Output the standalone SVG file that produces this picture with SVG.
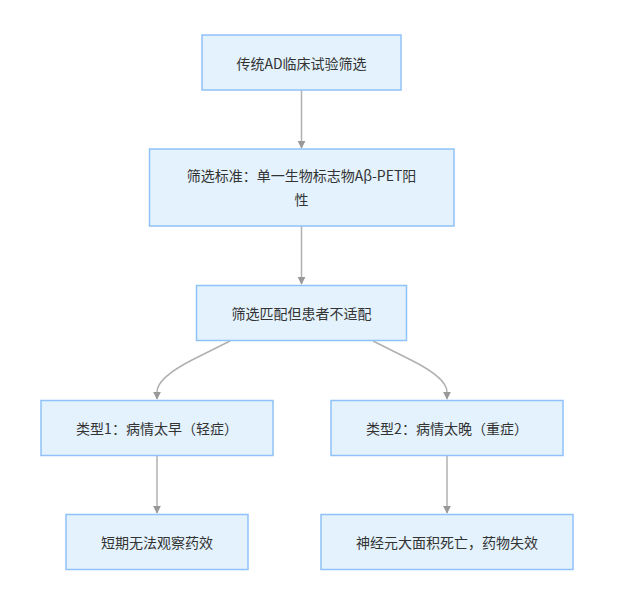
<svg xmlns="http://www.w3.org/2000/svg" width="642" height="614" viewBox="0 0 642 614">
<style>
.node rect{fill:#e3f2fd;stroke:#90c2f9;stroke-width:1.5;}
.node text{font-family:"Noto Sans CJK SC","Noto Sans",sans-serif;font-size:14px;fill:#333;text-anchor:middle;dominant-baseline:central;}
.edge{fill:none;stroke:#b0b0b0;stroke-width:1.5;}
</style>
<defs>
<marker id="arr" viewBox="0 0 10 10" refX="9" refY="5" markerWidth="8" markerHeight="8" markerUnits="userSpaceOnUse" orient="auto">
<path d="M0,0 L10,5 L0,10 z" fill="#999"/>
</marker>
</defs>
<rect width="642" height="614" fill="#fff"/>
<g id="connectors">
<path class="edge" d="M301.5,90 L301.5,148" marker-end="url(#arr)"/>
<path class="edge" d="M301.5,226 L301.5,284" marker-end="url(#arr)"/>
<path class="edge" d="M230,341 L192,360 Q157,378 157,392 L157,399" marker-end="url(#arr)"/>
<path class="edge" d="M373,341 L411,360 Q447,378 447,392 L447,399" marker-end="url(#arr)"/>
<path class="edge" d="M157,456 L157,513" marker-end="url(#arr)"/>
<path class="edge" d="M447,456 L447,513" marker-end="url(#arr)"/>
</g>
<g id="n1" class="node"><rect x="202" y="35" width="199" height="55"/><text x="301.5" y="62.5">传统AD临床试验筛选</text></g>
<g id="n2" class="node"><rect x="149.5" y="149" width="304.5" height="77"/><text x="301.5" y="175">筛选标准：单一生物标志物Aβ-PET阳</text><text x="301.5" y="199">性</text></g>
<g id="n3" class="node"><rect x="196.5" y="285.5" width="210" height="55"/><text x="301.5" y="313">筛选匹配但患者不适配</text></g>
<g id="n4" class="node"><rect x="41" y="400.5" width="232" height="55"/><text x="157" y="428">类型1：病情太早（轻症）</text></g>
<g id="n5" class="node"><rect x="331" y="400.5" width="232" height="55"/><text x="447" y="428">类型2：病情太晚（重症）</text></g>
<g id="n6" class="node"><rect x="66" y="514.5" width="182" height="55"/><text x="157" y="542">短期无法观察药效</text></g>
<g id="n7" class="node"><rect x="321" y="514.5" width="252" height="55"/><text x="447" y="542">神经元大面积死亡，药物失效</text></g>
</svg>
